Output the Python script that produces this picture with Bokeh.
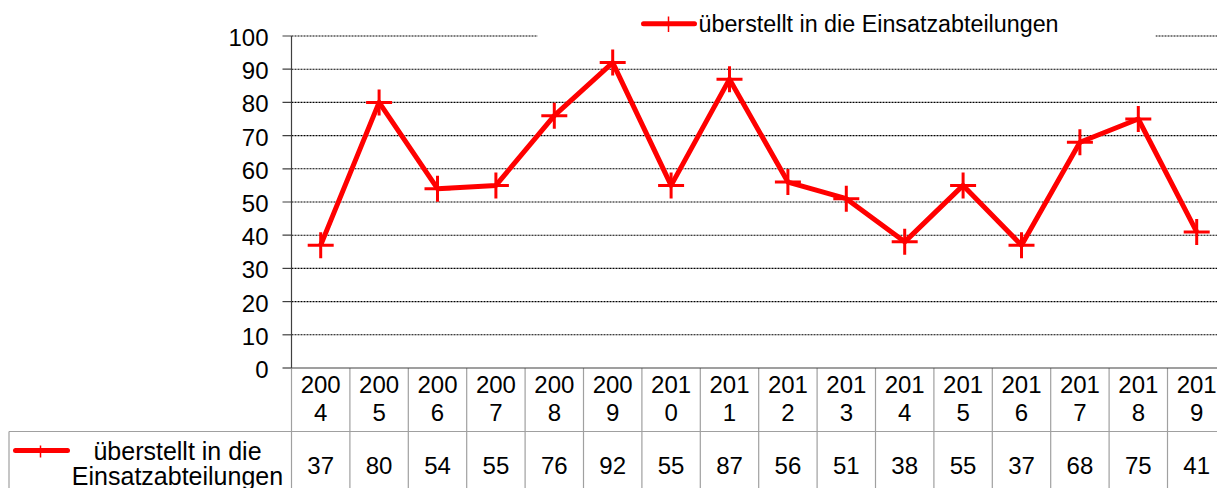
from bokeh.plotting import figure
from bokeh.models import Range1d, ColumnDataSource
from bokeh.core.properties import value
from bokeh.embed import file_html
from bokeh.resources import INLINE

# ---- data ----
years = ["2004", "2005", "2006", "2007", "2008", "2009", "2010", "2011",
         "2012", "2013", "2014", "2015", "2016", "2017", "2018", "2019"]
values = [37, 80, 54, 55, 76, 92, 55, 87, 56, 51, 38, 55, 37, 68, 75, 41]
series_name = "überstellt in die Einsatzabteilungen"
series_name_lines = ["überstellt in die", "Einsatzabteilungen"]
y_ticks = [0, 10, 20, 30, 40, 50, 60, 70, 80, 90, 100]

# ---- layout (page pixels) ----
W, H = 1217, 488
LEFT, TOP = 0, 0
X0 = 291.0      # plot-area left edge
CW = 58.4       # column width
Y0 = 367.5      # value 0
SY = 3.32       # px per unit
TS = 8.0        # text baseline correction

def X(px):
    return (px - X0) / CW - 0.5

def Y(py):
    return (Y0 - py) / SY

def YT(py):
    return Y(py - TS)

FONT = value("Liberation Sans")
RED = "#ff0000"
GRAY = "#a0a0a0"
DARK = "#404040"

p = figure(width=W, height=H, output_backend="svg", toolbar_location=None,
           x_axis_location=None, y_axis_location=None, min_border=0,
           x_range=Range1d(X(LEFT), X(LEFT + W)),
           y_range=Range1d(Y(TOP + H), Y(TOP)))
p.grid.visible = False
p.outline_line_color = None
p.background_fill_color = "white"
p.border_fill_color = "white"

n = len(years)
idx = list(range(n))
x_end = X(LEFT + W)

# gridlines
grid_vals = [t for t in y_ticks if t > 0]
p.segment(x0=[X(X0)] * len(grid_vals), y0=grid_vals,
          x1=[x_end] * len(grid_vals), y1=grid_vals,
          line_color="#000000", line_width=1.1, line_dash="2 1")

# legend background (covers top gridline)
p.quad(left=[X(537)], right=[X(1155)], top=[Y(TOP)], bottom=[Y(45)],
       fill_color="white", line_color=None)

# y axis line + ticks
p.segment(x0=[X(X0)], y0=[0], x1=[X(X0)], y1=[100], line_color=DARK, line_width=1.2)
p.segment(x0=[X(282)] * len(y_ticks), y0=y_ticks, x1=[X(X0)] * len(y_ticks), y1=y_ticks,
          line_color=DARK, line_width=1.2)
p.text(x=[X(268)] * len(y_ticks), y=[t - (9.5 - TS) / SY for t in y_ticks],
       text=[str(t) for t in y_ticks], text_align="right", text_baseline="alphabetic",
       text_font=FONT, text_font_size="24px", text_color="black")

# table lines
bottom_y = Y(TOP + H)
borders = [i - 0.5 for i in range(n + 1)]
p.segment(x0=borders, y0=[0] * len(borders), x1=borders, y1=[bottom_y] * len(borders),
          line_color=GRAY, line_width=1.2)
p.segment(x0=[X(8.5)], y0=[Y(431)], x1=[x_end], y1=[Y(431)],
          line_color=GRAY, line_width=1.2)
p.segment(x0=[X(8.5)], y0=[Y(431)], x1=[X(8.5)], y1=[bottom_y],
          line_color=GRAY, line_width=1.2)
# x axis line
p.segment(x0=[X(X0)], y0=[0], x1=[x_end], y1=[0], line_color=DARK, line_width=1.2)

# header texts (two lines)
p.text(x=idx, y=[YT(392)] * n, text=[y[:3] for y in years],
       text_align="center", text_baseline="alphabetic",
       text_font=FONT, text_font_size="24px", text_color="black")
p.text(x=idx, y=[YT(420)] * n, text=[y[3:] for y in years],
       text_align="center", text_baseline="alphabetic",
       text_font=FONT, text_font_size="24px", text_color="black")
# values row
p.text(x=idx, y=[YT(473)] * n, text=[str(v) for v in values],
       text_align="center", text_baseline="alphabetic",
       text_font=FONT, text_font_size="24px", text_color="black")

# left cell legend key + label
p.segment(x0=[X(15)], y0=[Y(450)], x1=[X(67)], y1=[Y(450)],
          line_color=RED, line_width=5, line_cap="round")
p.segment(x0=[X(40)], y0=[Y(445)], x1=[X(40)], y1=[Y(457)],
          line_color=RED, line_width=1.5)
p.text(x=[X(177)] * 2, y=[YT(458), YT(483)], text=series_name_lines,
       text_align="center", text_baseline="alphabetic",
       text_font=FONT, text_font_size="25px", text_color="black")

# series
src = ColumnDataSource(dict(x=idx, y=values))
p.line("x", "y", source=src, line_color=RED, line_width=5, line_join="round")
p.scatter("x", "y", source=src, marker="cross", size=26, line_color=RED, line_width=3)

# top legend
p.segment(x0=[X(643)], y0=[Y(23.3)], x1=[X(694)], y1=[Y(23.3)],
          line_color=RED, line_width=5, line_cap="round")
p.segment(x0=[X(668)], y0=[Y(16)], x1=[X(668)], y1=[Y(31.5)],
          line_color=RED, line_width=1.5)
p.text(x=[X(698)], y=[YT(31)], text=[series_name],
       text_align="left", text_baseline="alphabetic",
       text_font=FONT, text_font_size="23.3px", text_color="black")

open("out.html", "w").write(file_html(p, INLINE))
